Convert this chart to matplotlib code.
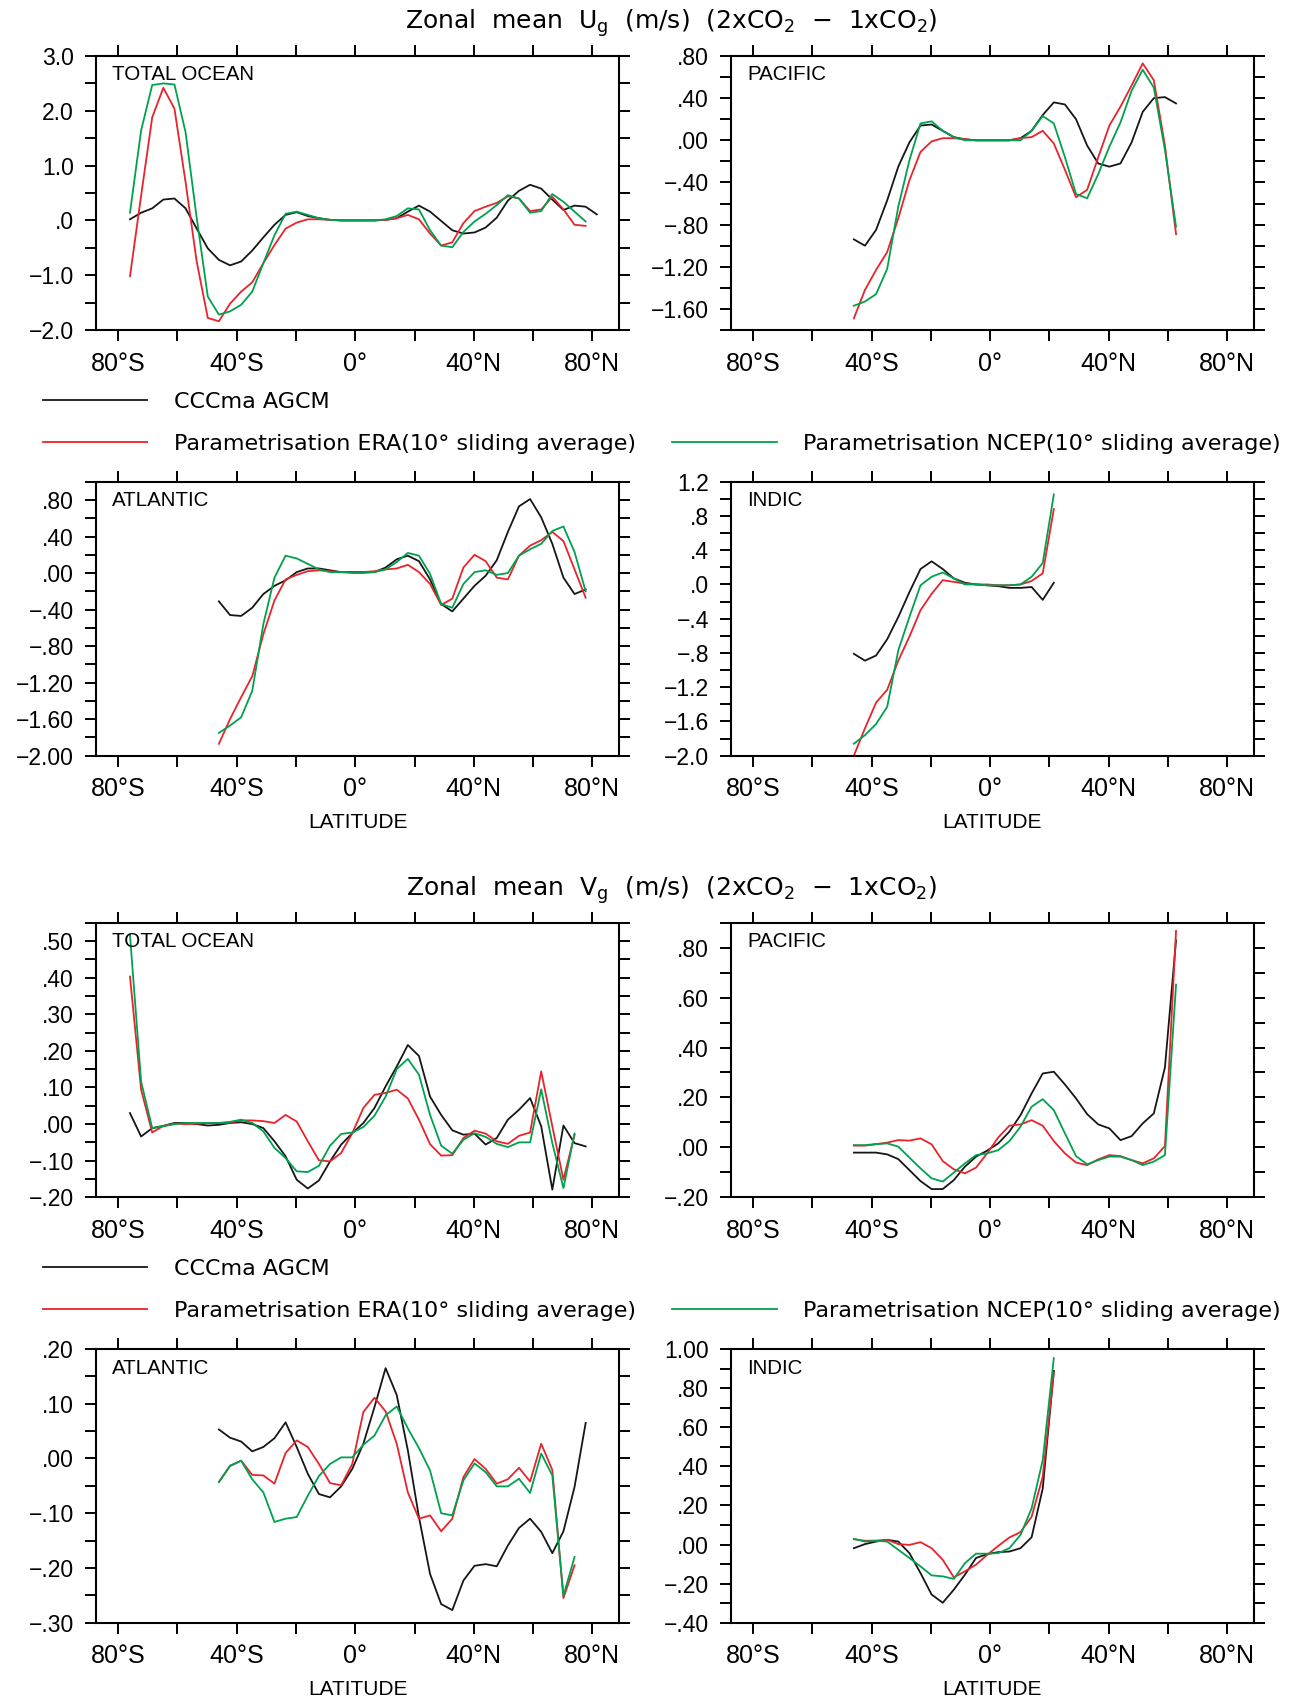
import numpy as np
import matplotlib
matplotlib.use('Agg')
import matplotlib.pyplot as plt
from matplotlib import font_manager

# latitude grid of the zonal means (deg, negative = south)
lat = [-76.0, -72.25, -68.5, -64.75, -61.0, -57.25, -53.5, -49.75, -46.0, -42.25,
       -38.5, -34.75, -31.0, -27.25, -23.5, -19.75, -16.0, -12.25, -8.5, -4.75,
       -1.0, 2.75, 6.5, 10.25, 14.0, 17.75, 21.5, 25.25, 29.0, 32.75,
       36.5, 40.25, 44.0, 47.75, 51.5, 55.25, 59.0, 62.75, 66.5, 70.25,
       74.0, 77.75, 81.5]

# ---- Zonal mean Ug (series start at lat index given by *_start) ----
ug_total_start = 0
ug_total_ccc = [0.02, 0.14, 0.22, 0.38, 0.40, 0.22, -0.15, -0.51, -0.72, -0.82,
                -0.75, -0.55, -0.31, -0.08, 0.10, 0.15, 0.08, 0.04, 0.01, 0.0,
                0.0, 0.0, 0.0, 0.01, 0.04, 0.16, 0.27, 0.16, -0.01, -0.18,
                -0.24, -0.22, -0.13, 0.05, 0.36, 0.54, 0.65, 0.58, 0.38, 0.19,
                0.27, 0.25, 0.11]
ug_total_era = [-1.02, 0.45, 1.88, 2.42, 2.04, 0.70, -0.75, -1.78, -1.84, -1.52,
                -1.30, -1.13, -0.78, -0.45, -0.15, -0.04, 0.02, 0.02, 0.01, 0.0,
                0.0, 0.0, 0.0, 0.01, 0.04, 0.10, 0.02, -0.24, -0.46, -0.40,
                -0.05, 0.17, 0.25, 0.32, 0.44, 0.40, 0.17, 0.20, 0.43, 0.20,
                -0.08, -0.10]
ug_total_ncep = [0.14, 1.64, 2.47, 2.50, 2.48, 1.61, 0.05, -1.39, -1.72, -1.66,
                 -1.54, -1.30, -0.78, -0.27, 0.12, 0.16, 0.10, 0.04, 0.01, 0.0,
                 0.0, 0.0, 0.0, 0.02, 0.08, 0.22, 0.20, -0.18, -0.46, -0.49,
                 -0.21, -0.02, 0.12, 0.28, 0.46, 0.40, 0.14, 0.17, 0.48, 0.34,
                 0.16, -0.02]

ug_pac_start = 8
ug_pac_ccc = [-0.94, -1.00, -0.85, -0.57, -0.25, -0.02, 0.14, 0.15, 0.09, 0.03,
              0.01, 0.0, 0.0, 0.0, 0.0, 0.02, 0.09, 0.24, 0.36, 0.34,
              0.20, -0.05, -0.22, -0.25, -0.22, -0.02, 0.27, 0.40, 0.41, 0.35]
ug_pac_era = [-1.69, -1.42, -1.23, -1.06, -0.74, -0.38, -0.11, -0.01, 0.02, 0.02,
              0.01, 0.0, 0.0, 0.0, 0.0, 0.02, 0.03, 0.09, -0.03, -0.28,
              -0.54, -0.47, -0.16, 0.14, 0.32, 0.52, 0.73, 0.57, -0.05, -0.89]
ug_pac_ncep = [-1.57, -1.53, -1.46, -1.22, -0.63, -0.19, 0.16, 0.18, 0.09, 0.03,
               0.0, 0.0, 0.0, 0.0, 0.0, 0.0, 0.09, 0.23, 0.16, -0.16,
               -0.51, -0.55, -0.32, -0.06, 0.17, 0.47, 0.67, 0.50, -0.09, -0.82]

ug_atl_start = 8
ug_atl_ccc = [-0.31, -0.46, -0.47, -0.38, -0.23, -0.14, -0.08, 0.01, 0.05, 0.05,
              0.03, 0.01, 0.01, 0.01, 0.01, 0.06, 0.15, 0.19, 0.13, -0.07,
              -0.34, -0.42, -0.28, -0.14, -0.03, 0.14, 0.45, 0.73, 0.81, 0.61,
              0.32, -0.05, -0.23, -0.18]
ug_atl_era = [-1.87, -1.60, -1.36, -1.13, -0.67, -0.30, -0.07, -0.02, 0.02, 0.03,
              0.02, 0.01, 0.01, 0.01, 0.02, 0.04, 0.05, 0.09, 0.01, -0.12,
              -0.35, -0.28, 0.06, 0.20, 0.13, -0.05, -0.07, 0.19, 0.30, 0.36,
              0.45, 0.35, 0.04, -0.27]
ug_atl_ncep = [-1.75, -1.67, -1.58, -1.29, -0.56, -0.05, 0.19, 0.16, 0.10, 0.04,
               0.01, 0.01, 0.0, 0.0, 0.01, 0.04, 0.12, 0.22, 0.19, -0.01,
               -0.34, -0.38, -0.12, 0.01, 0.03, -0.02, 0.0, 0.19, 0.26, 0.32,
               0.46, 0.51, 0.23, -0.20]

ug_ind_start = 8
ug_ind_ccc = [-0.81, -0.89, -0.83, -0.64, -0.38, -0.09, 0.18, 0.27, 0.18, 0.07,
              0.02, 0.0, -0.01, -0.02, -0.04, -0.04, -0.03, -0.18, 0.02]
ug_ind_era = [-2.0, -1.68, -1.38, -1.23, -0.89, -0.61, -0.30, -0.11, 0.05, 0.03,
              0.01, 0.0, 0.0, -0.01, -0.01, 0.0, 0.04, 0.13, 0.88]
ug_ind_ncep = [-1.86, -1.76, -1.63, -1.43, -0.77, -0.38, -0.01, 0.09, 0.14, 0.07,
               0.0, 0.0, -0.01, -0.01, -0.01, 0.0, 0.09, 0.25, 1.05]

# ---- Zonal mean Vg ----
vg_total_start = 0
vg_total_ccc = [0.030, -0.034, -0.011, -0.005, 0.003, 0.003, 0.0, -0.004, -0.002, 0.003,
                0.005, 0.0, -0.011, -0.047, -0.088, -0.152, -0.176, -0.154, -0.102, -0.056,
                -0.025, 0.003, 0.044, 0.103, 0.157, 0.216, 0.186, 0.075, 0.025, -0.017,
                -0.029, -0.026, -0.056, -0.038, 0.012, 0.039, 0.071, -0.006, -0.179, -0.004,
                -0.052, -0.061]
vg_total_era = [0.403, 0.094, -0.023, -0.005, 0.001, 0.0, 0.001, 0.003, 0.003, 0.004,
                0.010, 0.010, 0.008, 0.003, 0.025, 0.007, -0.047, -0.099, -0.102, -0.079,
                -0.025, 0.044, 0.080, 0.085, 0.094, 0.070, 0.012, -0.055, -0.086, -0.085,
                -0.038, -0.018, -0.026, -0.047, -0.054, -0.032, -0.023, 0.144, -0.006, -0.152,
                -0.029]
vg_total_ncep = [0.516, 0.116, -0.011, -0.006, 0.0, 0.003, 0.003, 0.003, 0.003, 0.006,
                 0.012, 0.003, -0.020, -0.065, -0.093, -0.129, -0.131, -0.114, -0.059, -0.027,
                 -0.023, -0.008, 0.023, 0.075, 0.150, 0.178, 0.135, 0.025, -0.059, -0.081,
                 -0.043, -0.025, -0.035, -0.054, -0.063, -0.050, -0.050, 0.095, -0.052, -0.175,
                 -0.026]

vg_pac_start = 8
vg_pac_ccc = [-0.021, -0.021, -0.021, -0.028, -0.047, -0.091, -0.135, -0.167, -0.167, -0.131,
              -0.077, -0.037, -0.013, 0.016, 0.063, 0.129, 0.216, 0.296, 0.303, 0.252,
              0.196, 0.133, 0.092, 0.076, 0.029, 0.045, 0.096, 0.136, 0.320, 0.829]
vg_pac_era = [0.007, 0.007, 0.013, 0.019, 0.029, 0.027, 0.036, 0.012, -0.055, -0.088,
              -0.104, -0.081, -0.024, 0.040, 0.087, 0.092, 0.109, 0.087, 0.025, -0.024,
              -0.061, -0.071, -0.048, -0.031, -0.035, -0.051, -0.064, -0.044, 0.005, 0.867]
vg_pac_ncep = [0.009, 0.009, 0.013, 0.016, 0.003, -0.041, -0.084, -0.124, -0.137, -0.101,
               -0.064, -0.031, -0.024, -0.011, 0.025, 0.083, 0.163, 0.193, 0.149, 0.056,
               -0.035, -0.068, -0.051, -0.037, -0.037, -0.051, -0.071, -0.057, -0.031, 0.652]

vg_atl_start = 8
vg_atl_ccc = [0.053, 0.038, 0.031, 0.013, 0.021, 0.037, 0.066, 0.021, -0.028, -0.065,
              -0.071, -0.051, -0.019, 0.027, 0.094, 0.165, 0.116, 0.015, -0.107, -0.211,
              -0.266, -0.277, -0.223, -0.196, -0.193, -0.197, -0.159, -0.127, -0.110, -0.134,
              -0.173, -0.133, -0.052, 0.065]
vg_atl_era = [-0.043, -0.014, -0.004, -0.030, -0.031, -0.046, 0.010, 0.033, 0.021, -0.010,
              -0.045, -0.049, -0.010, 0.085, 0.111, 0.086, 0.027, -0.062, -0.110, -0.104,
              -0.133, -0.110, -0.034, -0.001, -0.019, -0.046, -0.038, -0.017, -0.042, 0.027,
              -0.021, -0.255, -0.195]
vg_atl_ncep = [-0.043, -0.013, -0.004, -0.038, -0.062, -0.116, -0.110, -0.107, -0.068, -0.032,
               -0.010, 0.002, 0.002, 0.025, 0.042, 0.079, 0.095, 0.055, 0.019, -0.022,
               -0.100, -0.104, -0.040, -0.009, -0.025, -0.051, -0.051, -0.037, -0.063, 0.009,
               -0.031, -0.251, -0.180]

vg_ind_start = 8
vg_ind_ccc = [-0.019, 0.002, 0.015, 0.024, 0.015, -0.044, -0.146, -0.256, -0.298, -0.231,
              -0.154, -0.069, -0.049, -0.039, -0.036, -0.019, 0.037, 0.286, 0.888]
vg_ind_era = [0.027, 0.019, 0.020, 0.024, 0.002, -0.002, 0.012, -0.019, -0.078, -0.168,
              -0.137, -0.103, -0.053, -0.007, 0.036, 0.063, 0.142, 0.346, 0.880]
vg_ind_ncep = [0.029, 0.015, 0.019, 0.015, -0.027, -0.069, -0.112, -0.158, -0.163, -0.176,
               -0.095, -0.047, -0.047, -0.044, -0.019, 0.049, 0.185, 0.431, 0.953]

lon_ticks = [-80, -60, -40, -20, 0, 20, 40, 60, 80]
lon_labels = ['80°S', '', '40°S', '', '0°', '', '40°N', '', '80°N']
legend_labels = ['CCCma AGCM', 'Parametrisation ERA(10° sliding average)',
                 'Parametrisation NCEP(10° sliding average)']

# tick / panel text: a narrow face if one is installed, else Liberation Sans
names = {f.name for f in font_manager.fontManager.ttflist}
narrow = 'Liberation Sans Narrow' if 'Liberation Sans Narrow' in names else 'Liberation Sans'
plt.rcParams['font.family'] = 'DejaVu Sans'
plt.rcParams['axes.unicode_minus'] = True

BLACK, RED, GREEN = '#161616', '#e8232b', '#00a14e'
LW = 1.3
W, H = 1296, 1697


def fmt(v, nd):
    s = f'{abs(v):.{nd}f}'
    if s.startswith('0'):
        s = s[1:]
    return ('\u2212' + s) if v < -1e-9 else s


def rect(x0, top, x1, bottom):
    return [x0 / W, 1 - bottom / H, (x1 - x0) / W, (bottom - top) / H]


def panel(fig, r, name, series, start, ylim, ystep, lstep, nd, xlabel=False):
    ax = fig.add_axes(r)
    lines = []
    for vals, col in zip(series, (BLACK, RED, GREEN)):
        ln, = ax.plot(lat[start:start + len(vals)], vals, color=col, lw=LW)
        lines.append(ln)
    ax.set_xlim(-87.4, 89)
    ax.set_ylim(*ylim)
    ax.set_xticks(lon_ticks)
    ax.set_xticklabels(lon_labels, fontsize=18, family=narrow)
    yt = np.round(np.arange(ylim[0], ylim[1] + 1e-9, ystep), 4)
    ylab = [fmt(v, nd) if abs(v / lstep - round(v / lstep)) < 1e-6 else '' for v in yt]
    ax.set_yticks(yt)
    ax.set_yticklabels(ylab, fontsize=16.5, family=narrow)
    ax.tick_params(axis='x', direction='out', top=True, length=8, width=1.4, pad=7.5)
    ax.tick_params(axis='y', direction='out', right=True, length=8, width=1.4, pad=8)
    for s in ax.spines.values():
        s.set_linewidth(1.5)
    ax.text(16 / (r[2] * W), 1 - 19 / (r[3] * H), name, transform=ax.transAxes,
            va='center', ha='left', fontsize=14.8, family=narrow)
    if xlabel:
        ax.set_xlabel('LATITUDE', fontsize=15, family=narrow, labelpad=8.5)
    return lines


fig = plt.figure(figsize=(W / 100, H / 100), dpi=100)

left_x = (96.2, 619)
right_x = (731.2, 1253.8)

# ---------- Ug block ----------
fig.text(0.518, 1 - 29 / H, 'Zonal  mean  U$_\\mathregular{g}$  (m/s)  (2xCO$_\\mathregular{2}$  \u2212  1xCO$_\\mathregular{2}$)',
         ha='center', va='baseline', fontsize=18)
hl = panel(fig, rect(left_x[0], 56, left_x[1], 330), 'TOTAL OCEAN',
           [ug_total_ccc, ug_total_era, ug_total_ncep], ug_total_start, (-2.0, 3.0), 0.5, 1.0, 1)
panel(fig, rect(right_x[0], 56, right_x[1], 330), 'PACIFIC',
      [ug_pac_ccc, ug_pac_era, ug_pac_ncep], ug_pac_start, (-1.8, 0.8), 0.2, 0.4, 2)
panel(fig, rect(left_x[0], 481.7, left_x[1], 755.7), 'ATLANTIC',
      [ug_atl_ccc, ug_atl_era, ug_atl_ncep], ug_atl_start, (-2.0, 1.0), 0.2, 0.4, 2, xlabel=True)
panel(fig, rect(right_x[0], 481.7, right_x[1], 755.7), 'INDIC',
      [ug_ind_ccc, ug_ind_era, ug_ind_ncep], ug_ind_start, (-2.0, 1.2), 0.2, 0.4, 1, xlabel=True)

# ---------- Vg block ----------
fig.text(0.5185, 1 - 896 / H, 'Zonal  mean  V$_\\mathregular{g}$  (m/s)  (2xCO$_\\mathregular{2}$  \u2212  1xCO$_\\mathregular{2}$)',
         ha='center', va='baseline', fontsize=18)
hl2 = panel(fig, rect(left_x[0], 922.7, left_x[1], 1197.3), 'TOTAL OCEAN',
            [vg_total_ccc, vg_total_era, vg_total_ncep], vg_total_start, (-0.2, 0.55), 0.05, 0.1, 2)
panel(fig, rect(right_x[0], 922.7, right_x[1], 1197.3), 'PACIFIC',
      [vg_pac_ccc, vg_pac_era, vg_pac_ncep], vg_pac_start, (-0.2, 0.9), 0.1, 0.2, 2)
panel(fig, rect(left_x[0], 1349, left_x[1], 1622.7), 'ATLANTIC',
      [vg_atl_ccc, vg_atl_era, vg_atl_ncep], vg_atl_start, (-0.3, 0.2), 0.05, 0.1, 2, xlabel=True)
panel(fig, rect(right_x[0], 1349, right_x[1], 1622.7), 'INDIC',
      [vg_ind_ccc, vg_ind_era, vg_ind_ncep], vg_ind_start, (-0.4, 1.0), 0.1, 0.2, 2, xlabel=True)

# legends: black alone on first row, red and green on the second row
blank = plt.Line2D([], [], color='none')
for handles, top in ((hl, 392), (hl2, 1259)):
    fig.legend([handles[0], handles[1], blank, handles[2]],
               [legend_labels[0], legend_labels[1], '', legend_labels[2]],
               loc='upper left', bbox_to_anchor=(43 / W, 1 - top / H), ncol=2,
               frameon=False, borderpad=0, borderaxespad=0, fontsize=16,
               handlelength=4.7, handletextpad=1.2, columnspacing=1.62,
               labelspacing=0.97)

fig.savefig('out.png', dpi=100)
